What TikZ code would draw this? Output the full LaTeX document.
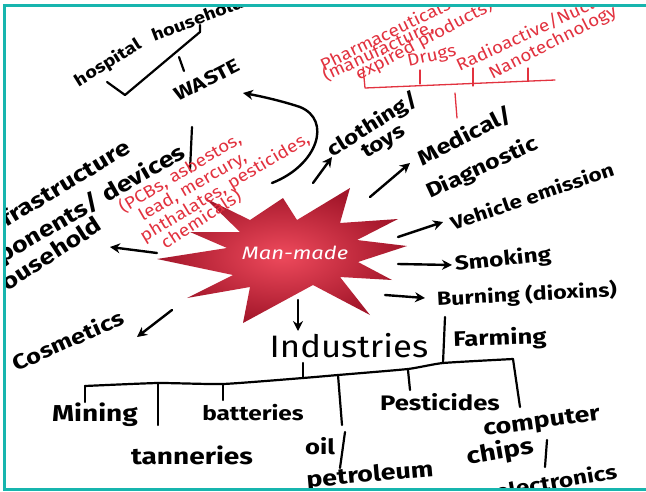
\documentclass[tikz,border=0pt]{standalone}
\usepackage{fontspec}
\setmainfont{Fira Sans}
\newfontfamily\handfont{Fira Sans}[FakeStretch=1.22]
\newfontfamily\inkfont{Fira Sans}[FakeStretch=1.12]
\usetikzlibrary{arrows.meta}
\definecolor{frameteal}{HTML}{17B5AE}
\definecolor{redink}{HTML}{E2323F}
\definecolor{starin}{HTML}{EE4A5C}
\definecolor{starout}{HTML}{A3162A}
\newcommand{\hs}[1]{\handfont\bfseries\fontsize{#1}{#1}\selectfont}
\begin{document}
\begin{tikzpicture}[x=1pt,y=-1pt,
  hand/.style={font=\hs{20}, inner sep=0pt},
  ink/.style={font=\inkfont\fontsize{17}{17}\selectfont, text=redink, inner sep=0pt},
  arr/.style={line width=2.4pt, line cap=round, -{Stealth[length=10pt,width=10pt]}},
  pen/.style={line width=2.2pt, line cap=round, line join=round},
  redpen/.style={line width=1.3pt, draw=redink, line cap=round, line join=round},
]
\useasboundingbox (0,0) rectangle (646,491);
\fill[white] (0,0) rectangle (646,491);
\begin{scope}
\clip (5,6) rectangle (646,488);
% ---------- star ----------
\shade[inner color=starin, outer color=starout]
  (205,198) -- (250,220) -- (283,198) -- (297,220) -- (350,188) -- (340,223)
  -- (398,219) -- (357,240) -- (407,246) -- (358,262) -- (392,280) -- (340,277)
  -- (370,315) -- (313,285) -- (243,323) -- (250,287) -- (187,298) -- (233,275)
  -- (157,259) -- (227,248) -- (190,232) -- (240,232) -- cycle;
\node[font=\handfont\itshape\fontsize{18}{18}\selectfont, text=white] (mm) at (295,253) {Man-made};
% ---------- waste ----------
\node[hand, font=\hs{16.5}, rotate=32] (hosp) at (108,63) {hospital};
\node[hand, font=\hs{16.5}, rotate=21, anchor=west] (house) at (152,36) {household};
\node[hand, font=\hs{19}, rotate=27] (waste) at (207,80) {WASTE};
\coordinate (b1) at (107,82); \coordinate (b2) at (125,95);
\coordinate (b3) at (200,32); \coordinate (b4) at (200,25);
\coordinate (bs) at (179,57); \coordinate (be) at (184,71);
\draw[pen] (b1) -- (b2) -- (b3) -- (b4);
\draw[pen] (bs) -- (be);
\coordinate (wst) at (272,183); \coordinate (wen) at (243,93);
\draw[arr] (wst) .. controls (318,165) and (332,120) .. (300,107)
  .. controls (285,102) and (265,97) .. (wen);
% ---------- medical (red) ----------
\node[ink, rotate=26] (pharm) at (385,34) {Pharmaceuticals};
\node[ink, rotate=25] (manu) at (378,51) {(manufacture,};
\node[ink, rotate=28] (exp) at (424,40) {expired products)};
\node[ink, rotate=12] (drugs) at (432,57) {Drugs};
\node[ink, rotate=25, anchor=west] (radio) at (457,66) {Radioactive/Nuclear};
\node[ink, rotate=27] (nano) at (553,43) {Nanotechnology};
\coordinate (r0) at (363,67); \coordinate (r1) at (365,88); \coordinate (r2) at (555,80);
\coordinate (t1a) at (420,84); \coordinate (t1b) at (420,70);
\coordinate (t2a) at (473,86); \coordinate (t2b) at (473,68);
\coordinate (t3a) at (528,81); \coordinate (t3b) at (528,68);
\coordinate (sa) at (455,93); \coordinate (sb) at (457,118);
\draw[redpen] (r0) -- (r1) -- (r2);
\draw[redpen] (t1a) -- (t1b);
\draw[redpen] (t2a) -- (t2b);
\draw[redpen] (t3a) -- (t3b);
\draw[redpen] (sa) -- (sb);
% ---------- right branch ----------
\node[hand, rotate=32] (cloth) at (373,125) {clothing/};
\node[hand, rotate=31] (toys) at (384,143) {toys};
\node[hand, font=\hs{21}, rotate=27] (med) at (465,136) {Medical/};
\node[hand, font=\hs{20.5}, rotate=25] (diag) at (482,168) {Diagnostic};
\node[hand, font=\hs{18.5}, rotate=19] (veh) at (532,196) {Vehicle emission};
\node[hand, rotate=6] (smok) at (503,260) {Smoking};
\node[hand, font=\hs{19}, rotate=3] (burn) at (527,295) {Burning (dioxins)};
\coordinate (a1) at (313,183); \coordinate (a1e) at (332,157);
\coordinate (a2) at (370,197); \coordinate (a2e) at (410,163);
\coordinate (a3) at (398,237); \coordinate (a3e) at (443,222);
\coordinate (a4) at (398,264); \coordinate (a4e) at (452,265);
\coordinate (a5) at (385,295); \coordinate (a5e) at (425,298);
\draw[arr] (a1) -- (a1e);
\draw[arr] (a2) -- (a2e);
\draw[arr] (a3) -- (a3e);
\draw[arr] (a4) -- (a4e);
\draw[arr] (a5) -- (a5e);
% ---------- left branch ----------
\node[hand, font=\hs{22}, rotate=31, anchor=east] (infra) at (128,145) {Infrastructure};
\node[hand, font=\hs{22}, rotate=30, anchor=east] (comp) at (184,151) {components/ devices};
\node[hand, font=\hs{22}, rotate=33, anchor=east] (hh) at (99,222) {household};
\coordinate (v1) at (192,127); \coordinate (v2) at (190,170);
\draw[pen] (v1) -- (v2);
\node[ink, rotate=31] (pcb) at (180,173) {(PCBs, asbestos,};
\node[ink, rotate=30] (lead) at (193,187) {lead, mercury,};
\node[ink, rotate=31] (phth) at (225,188) {phthalates, pesticides,};
\node[ink, rotate=33] (chem) at (201,219) {chemicals)};
\coordinate (a6) at (157,253); \coordinate (a6e) at (110,247);
\draw[arr] (a6) -- (a6e);
\node[hand, font=\hs{21}, rotate=24] (cosm) at (68,340) {Cosmetics};
\coordinate (a7) at (172,310); \coordinate (a7e) at (137,337);
\draw[arr] (a7) -- (a7e);
% ---------- industries ----------
\coordinate (a8) at (298,300); \coordinate (a8e) at (298,331);
\draw[arr] (a8) -- (a8e);
\node[font=\inkfont\fontsize{31}{32}\selectfont, inner sep=0pt] (ind) at (349,346) {Industries};
\node[hand, font=\hs{21}, rotate=2] (farm) at (500,339) {Farming};
\coordinate (f1) at (445,317); \coordinate (f2) at (443,363);
\draw[pen] (f1) -- (f2);
\coordinate (L0) at (85,386); \coordinate (L1) at (158,383); \coordinate (L2) at (223,385);
\coordinate (L3) at (303,378); \coordinate (L4) at (338,375); \coordinate (L5) at (408,370);
\coordinate (L6) at (443,363); \coordinate (L7) at (513,359);
\draw[pen] plot[smooth, tension=0.3] coordinates {(85,386) (158,383) (223,384) (303,378) (338,375) (408,369) (443,363) (513,359)};
\coordinate (d0) at (85,402); \coordinate (d1) at (158,425); \coordinate (d2) at (223,400);
\coordinate (d3) at (342,425); \coordinate (d5) at (410,390); \coordinate (d7) at (520,407);
\coordinate (ds) at (303,363);
\draw[pen] (L0) -- (d0);
\draw[pen] (L1) -- (d1);
\draw[pen] (L2) -- (d2);
\draw[pen] (L4) -- (d3);
\draw[pen] (L5) -- (d5);
\draw[pen] (L7) -- (d7);
\draw[pen] (ds) -- (L3);
\node[hand, font=\hs{23}] (min) at (95,415) {Mining};
\node[hand, font=\hs{23}] (tan) at (192,455) {tanneries};
\node[hand, font=\hs{20}] (bat) at (253,413) {batteries};
\node[hand, font=\hs{21}] (oil) at (320,446) {oil};
\coordinate (o1) at (345,432); \coordinate (o2) at (340,468);
\draw[pen] (o1) -- (o2);
\node[hand, font=\hs{22}, rotate=5] (pet) at (370,476) {petroleum};
\node[hand, font=\hs{21}] (pest) at (440,402) {Pesticides};
\node[hand, font=\hs{22}, rotate=8] (compu) at (542,423) {computer};
\node[hand, font=\hs{23}, rotate=10] (chips) at (500,452) {chips};
\coordinate (c1) at (547,440); \coordinate (c2) at (545,467);
\draw[pen] (c1) -- (c2);
\node[hand, rotate=10] (elec) at (556,481) {electronics};
\end{scope}
\draw[frameteal, line width=3pt] (646,5) -- (4,5) -- (4,489) -- (646,489);
\end{tikzpicture}
\end{document}
